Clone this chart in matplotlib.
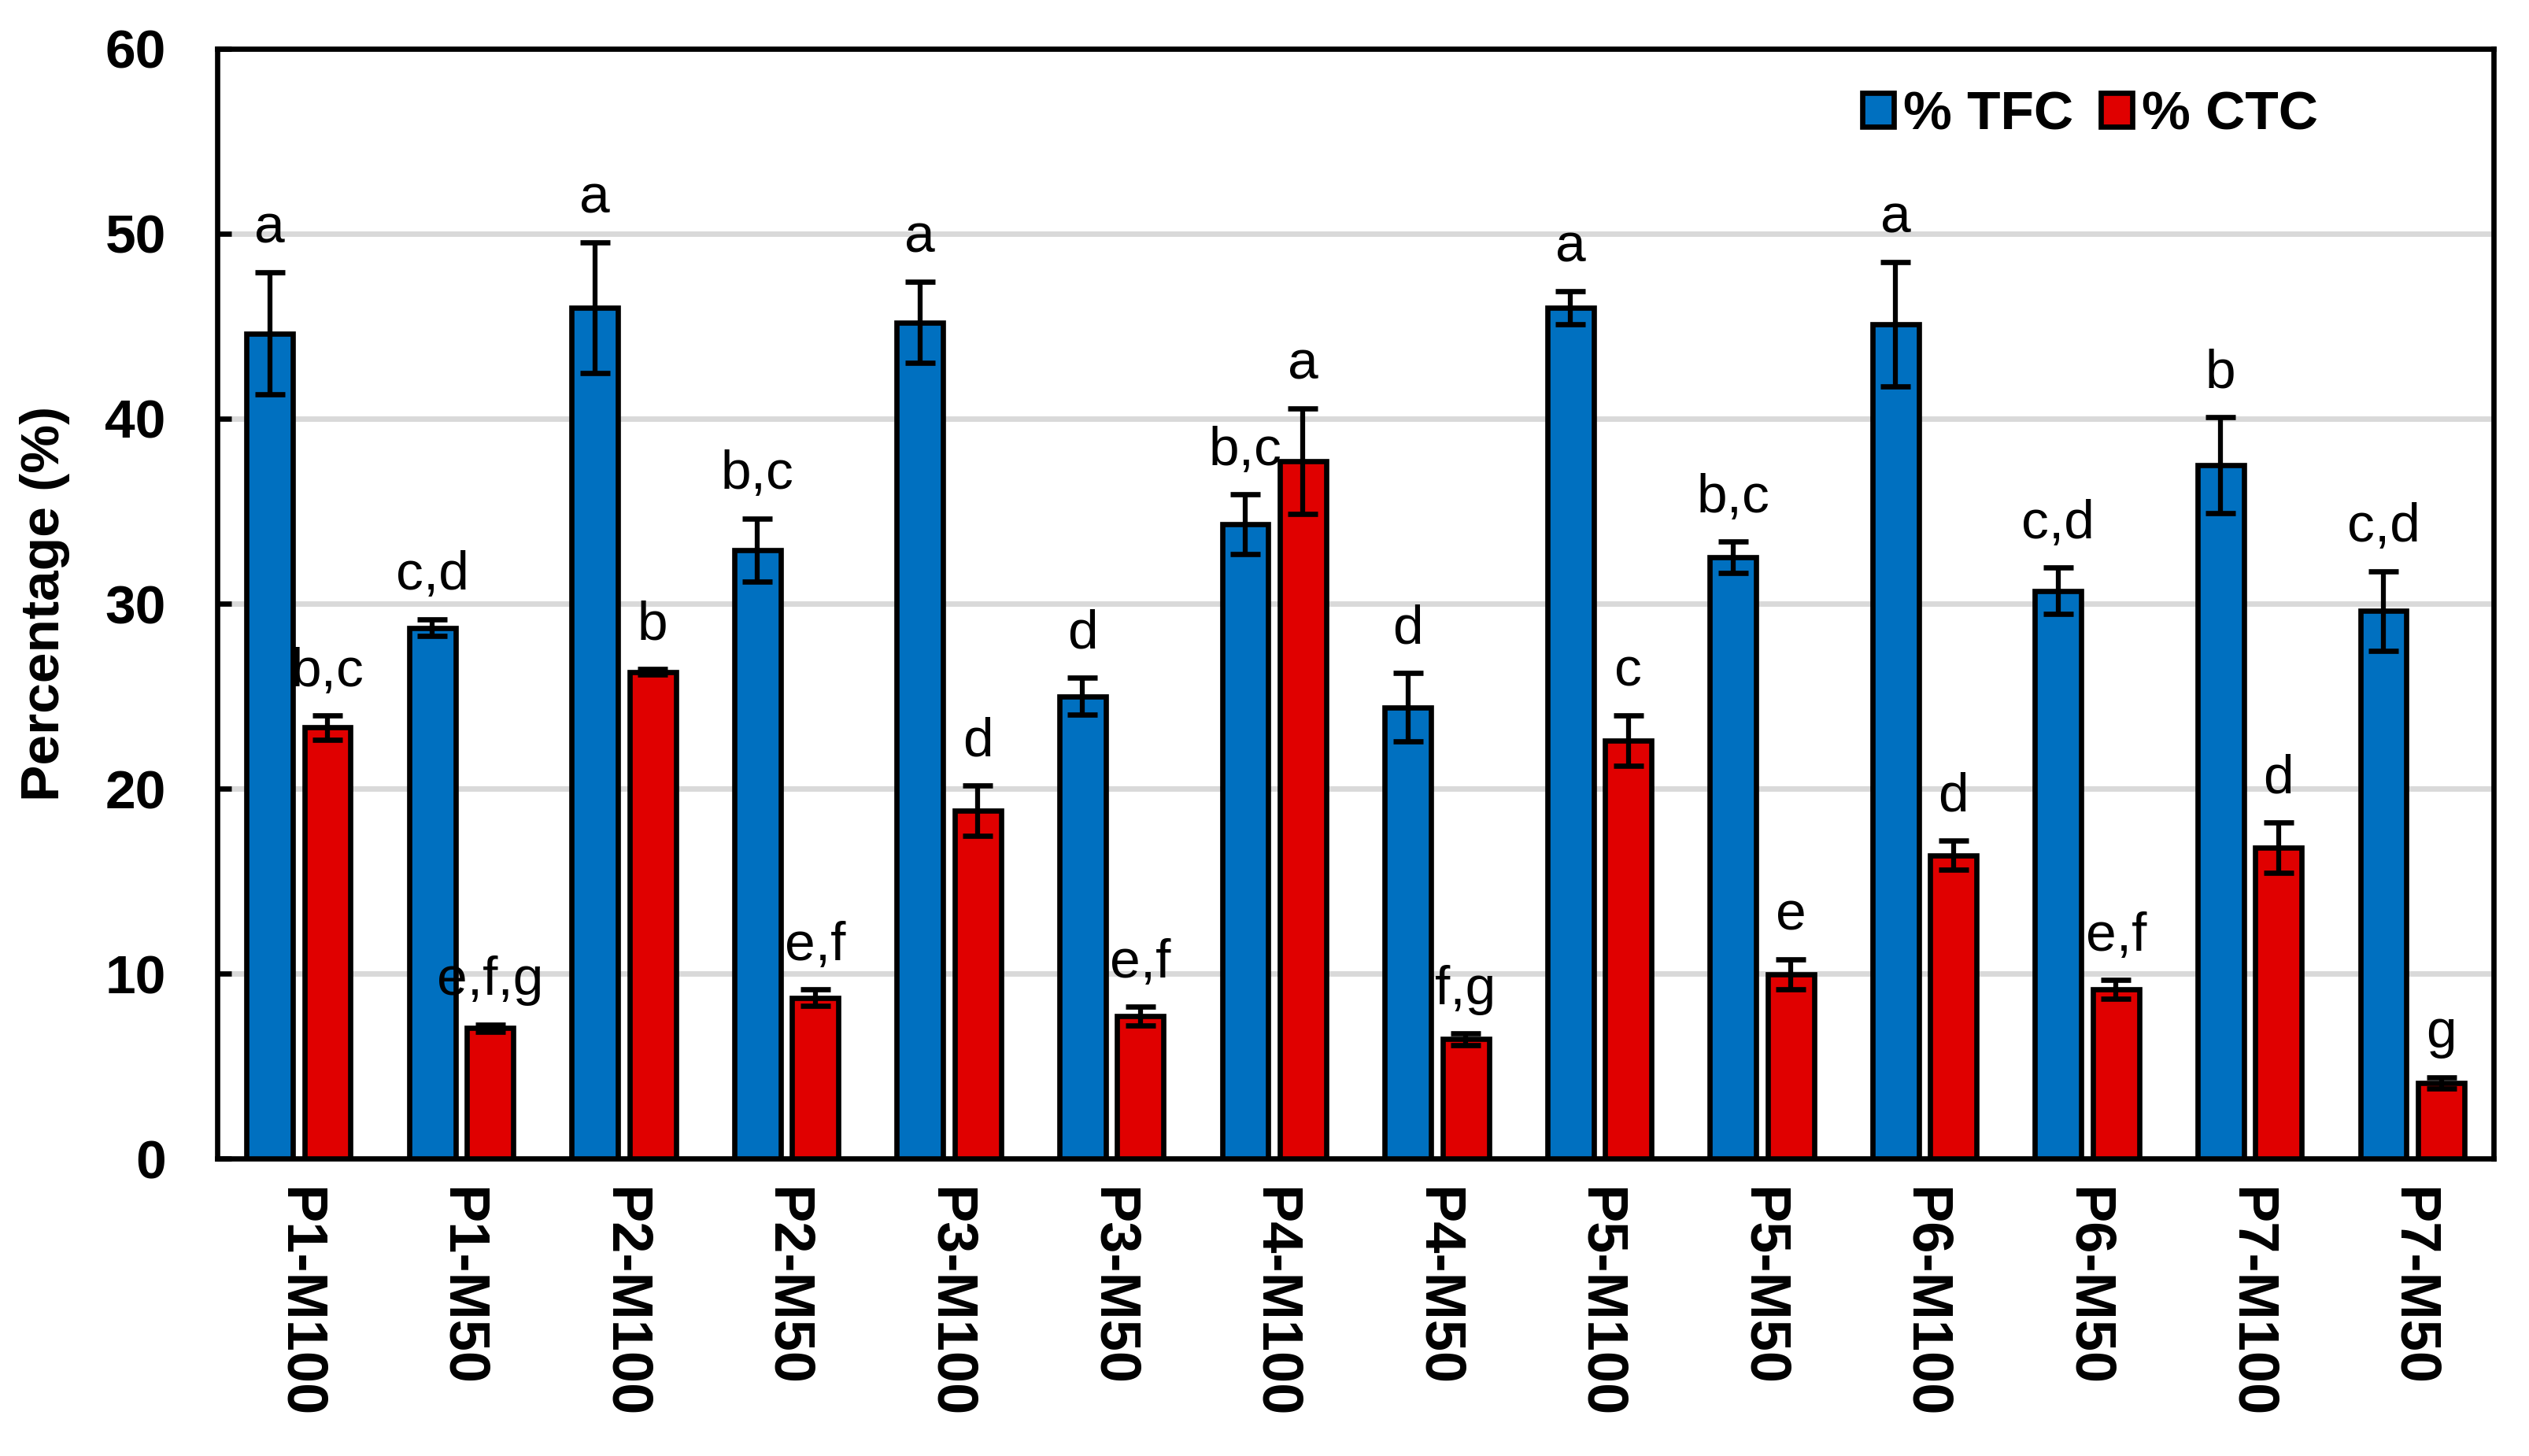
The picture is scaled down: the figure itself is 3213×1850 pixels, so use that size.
import numpy as np
import matplotlib
matplotlib.use('Agg')
import matplotlib.pyplot as plt

plt.rcParams['font.family'] = ['Liberation Sans', 'DejaVu Sans']

# sample names (x axis)
samples = ['P1-M100', 'P1-M50', 'P2-M100', 'P2-M50', 'P3-M100', 'P3-M50', 'P4-M100',
           'P4-M50', 'P5-M100', 'P5-M50', 'P6-M100', 'P6-M50', 'P7-M100', 'P7-M50']

# % TFC mean and error
tfc = [44.6, 28.7, 46.0, 32.9, 45.2, 25.0, 34.3, 24.4, 46.0, 32.5, 45.1, 30.7, 37.5, 29.6]
tfc_err = [3.3, 0.45, 3.55, 1.7, 2.2, 1.0, 1.6, 1.85, 0.9, 0.85, 3.35, 1.25, 2.6, 2.15]

# % CTC mean and error
ctc = [23.3, 7.05, 26.3, 8.7, 18.8, 7.7, 37.7, 6.45, 22.6, 9.95, 16.4, 9.15, 16.8, 4.1]
ctc_err = [0.65, 0.2, 0.15, 0.45, 1.35, 0.5, 2.85, 0.3, 1.35, 0.8, 0.8, 0.5, 1.35, 0.3]

# significance letters
tfc_letters = ['a', 'c,d', 'a', 'b,c', 'a', 'd', 'b,c', 'd', 'a', 'b,c', 'a', 'c,d', 'b', 'c,d']
ctc_letters = ['b,c', 'e,f,g', 'b', 'e,f', 'd', 'e,f', 'a', 'f,g', 'c', 'e', 'd', 'e,f', 'd', 'g']

fig, ax = plt.subplots(figsize=(32.13, 18.5), dpi=100)
fig.subplots_adjust(left=0.0859, right=0.986, bottom=0.2043, top=0.9665)

x = np.arange(len(samples))
w = 0.285
off = 0.178
err_kw = dict(ecolor='black', elinewidth=4.5, capsize=14, capthick=4.8, zorder=4)

ax.bar(x - off, tfc, w, yerr=tfc_err, color='#0070C0', edgecolor='black',
       linewidth=4.8, error_kw=err_kw, label='% TFC', zorder=3)
ax.bar(x + off, ctc, w, yerr=ctc_err, color='#E00000', edgecolor='black',
       linewidth=4.8, error_kw=err_kw, label='% CTC', zorder=3)

# letters above error bars
for i in range(len(samples)):
    ax.annotate(tfc_letters[i], (x[i] - off, tfc[i] + tfc_err[i]), xytext=(0, 27),
                textcoords='offset points', ha='center', va='baseline', fontsize=50)
    ax.annotate(ctc_letters[i], (x[i] + off, ctc[i] + ctc_err[i]), xytext=(0, 27),
                textcoords='offset points', ha='center', va='baseline', fontsize=50)

ax.set_xlim(-0.5, len(samples) - 0.5)
ax.set_ylim(0, 60)
ax.set_yticks(np.arange(0, 61, 10))
ax.set_xticks(x)
ax.set_xticklabels(samples, rotation=-90, fontsize=52, fontweight='bold')
for lbl in ax.get_yticklabels():
    lbl.set_fontsize(50)
    lbl.set_fontweight('bold')

ax.tick_params(axis='y', direction='in', length=13, width=4.8, pad=47)
ax.tick_params(axis='x', length=0, pad=26)

ax.yaxis.grid(True, color='#d9d9d9', linewidth=5)
ax.set_axisbelow(True)
for sp in ax.spines.values():
    sp.set_linewidth(4.8)
    sp.set_color('black')

ax.set_ylabel('Percentage (%)', fontsize=50, fontweight='bold', labelpad=32)

ax.legend(loc='center left', bbox_to_anchor=(0.7227, 0.9404), ncol=2, frameon=False,
          prop={'weight': 'bold', 'size': 50}, handlelength=0.57, handleheight=0.58,
          handletextpad=0.18, columnspacing=0.5, borderaxespad=0, borderpad=0)

fig.savefig('out.png', dpi=100)
